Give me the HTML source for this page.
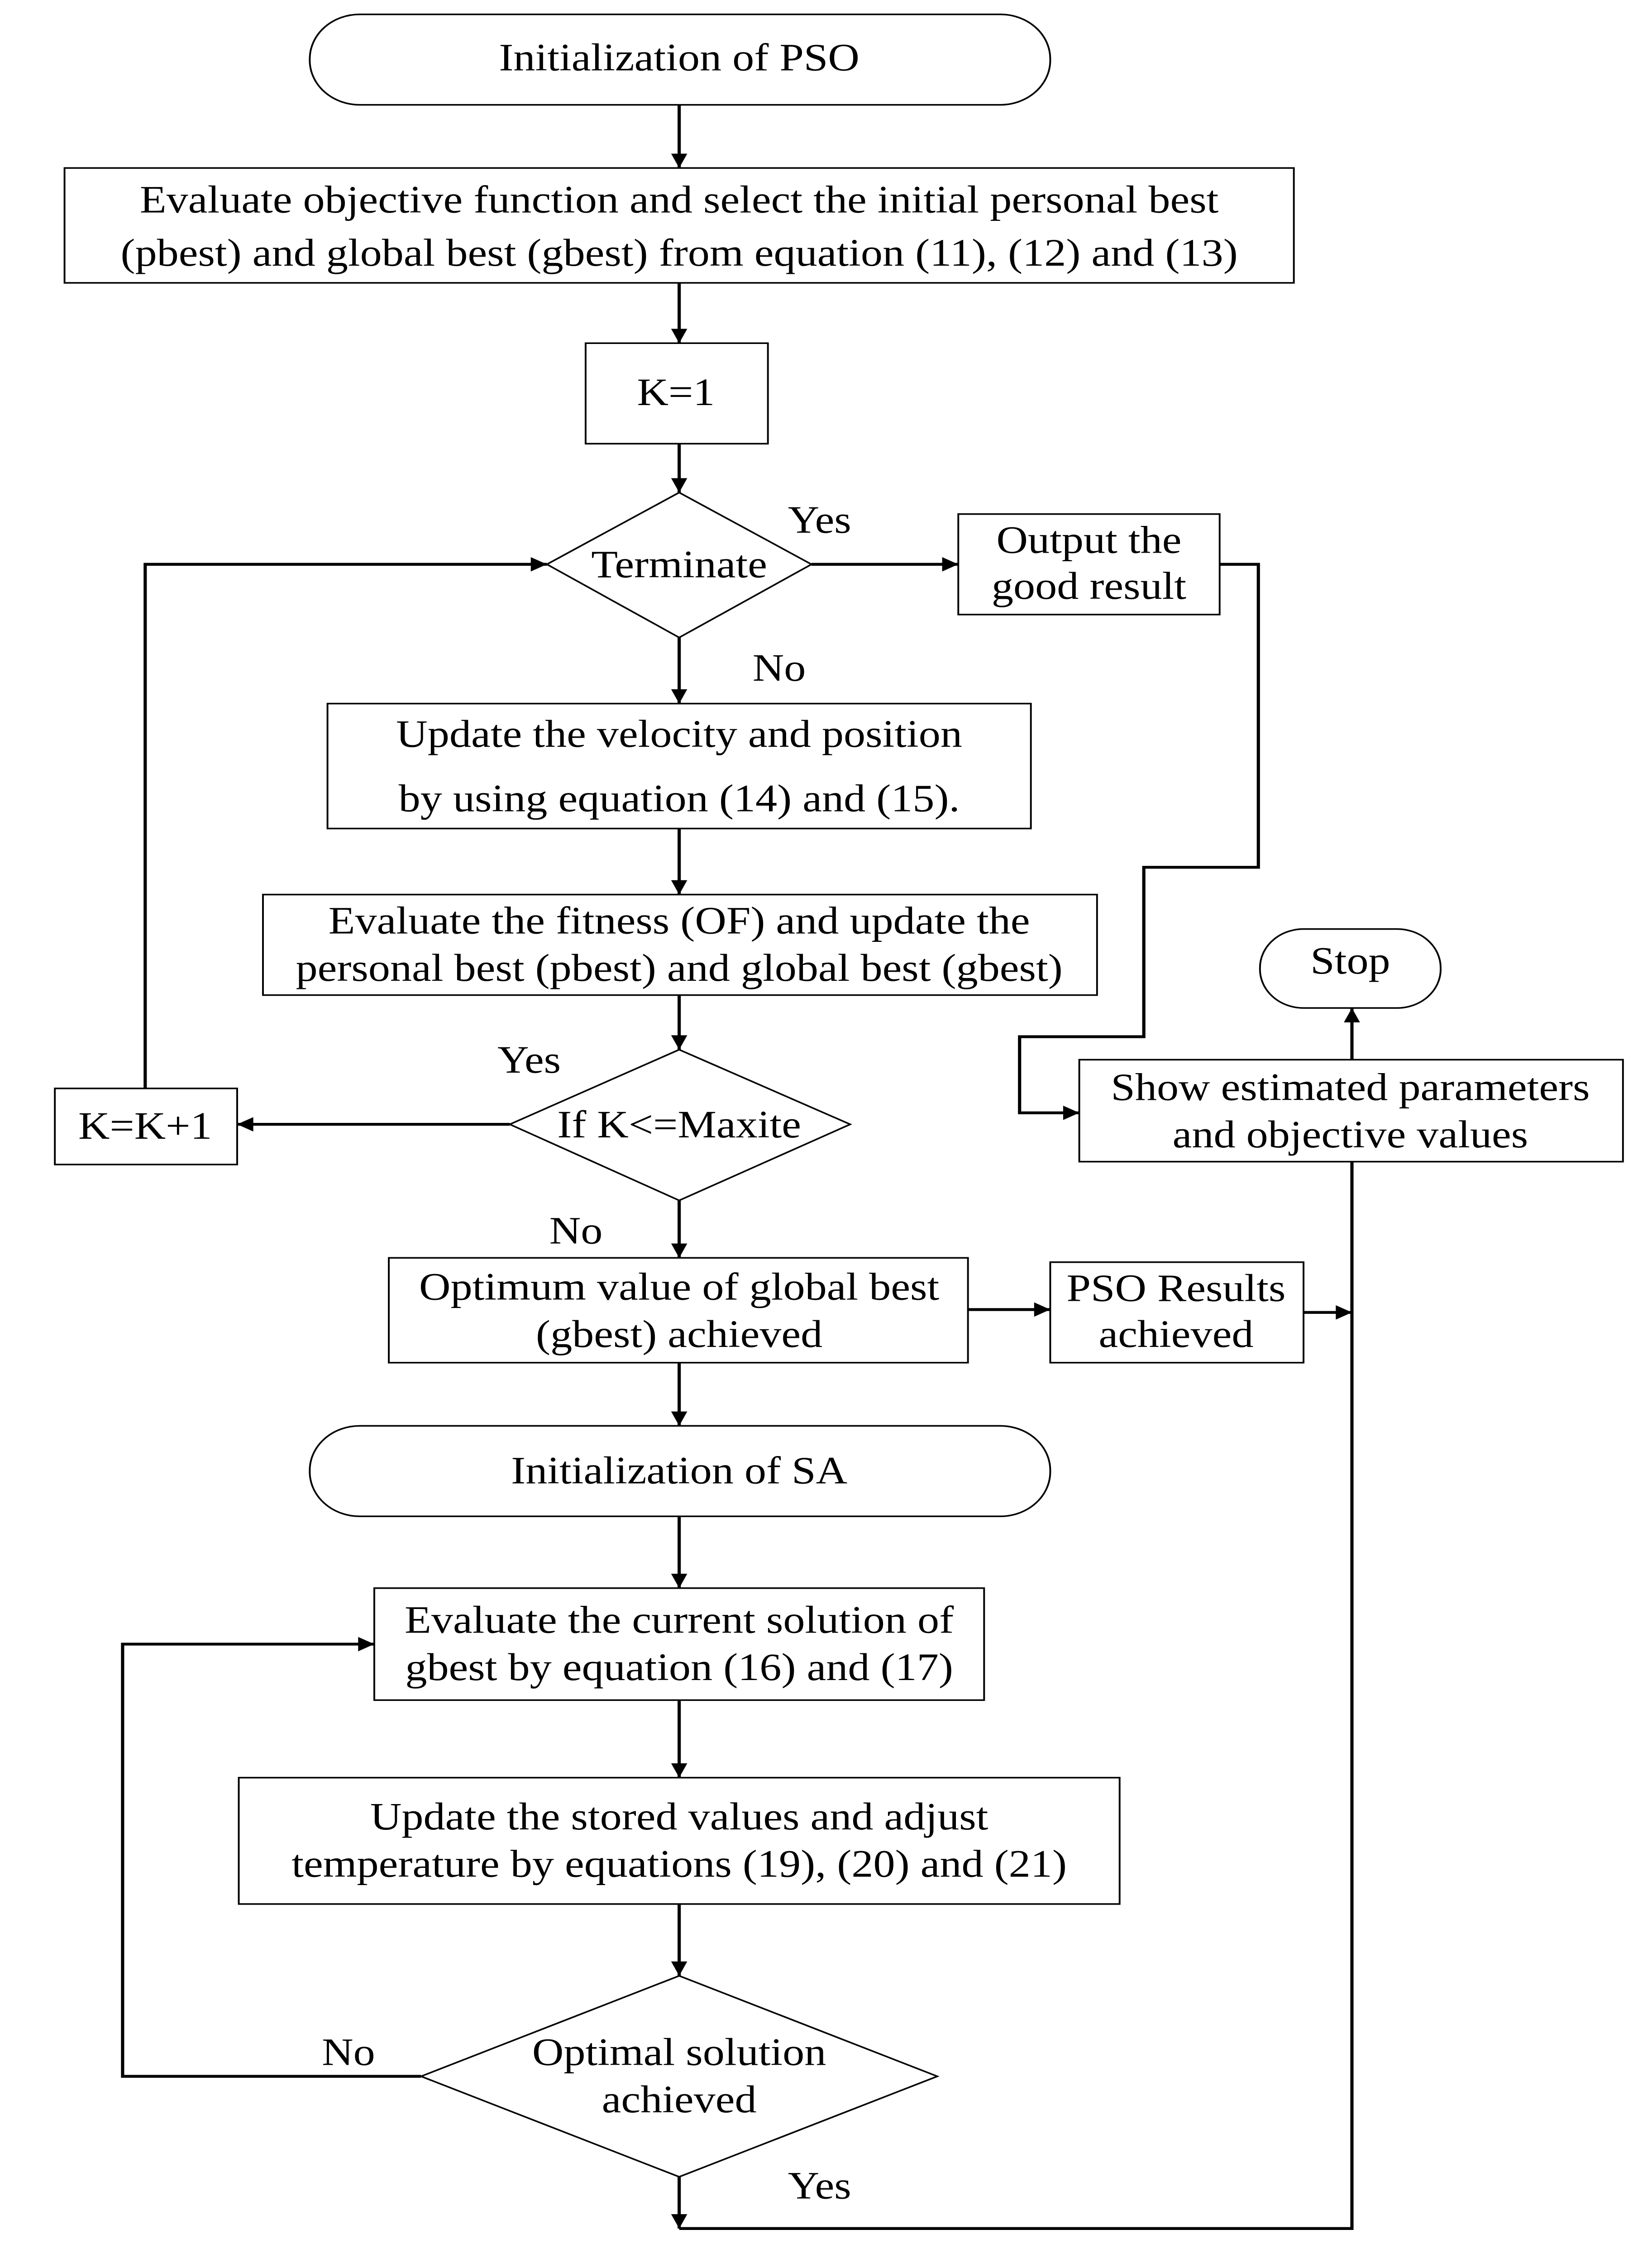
<!DOCTYPE html>
<html><head><style>
html,body{margin:0;padding:0;background:#fff;width:100%;height:100%;overflow:hidden}
svg{display:block;position:fixed;left:0;top:0;width:100vw;height:100vh}
</style></head>
<body>
<svg xmlns="http://www.w3.org/2000/svg" viewBox="0 0 1024 1576" preserveAspectRatio="none">
<defs>
<marker id="b" viewBox="0 0 10 10" refX="10" refY="5" markerWidth="14" markerHeight="10" markerUnits="userSpaceOnUse" orient="auto"><path d="M0,0L10,5L0,10z" fill="#000"/></marker>
</defs>
<g fill="#fff" stroke="#000" stroke-width="1.1">
<rect x="192" y="10" width="459" height="63" rx="31"/>
<rect x="40" y="117" width="762" height="80"/>
<rect x="363" y="239" width="113" height="70"/>
<polygon points="421,343 503,393 421,444 339,393"/>
<rect x="594" y="358" width="162" height="70"/>
<rect x="203" y="490" width="436" height="87"/>
<rect x="163" y="623" width="517" height="70"/>
<polygon points="421,731 527,783 421,836 316,783"/>
<rect x="34" y="758" width="113" height="53"/>
<rect x="241" y="876" width="359" height="73"/>
<rect x="651" y="879" width="157" height="70"/>
<rect x="669" y="738" width="337" height="71"/>
<rect x="781" y="647" width="112" height="55" rx="27"/>
<rect x="192" y="993" width="459" height="63" rx="31"/>
<rect x="232" y="1106" width="378" height="78"/>
<rect x="148" y="1238" width="546" height="88"/>
<polygon points="421,1376 581,1446 421,1516 261,1446"/>
</g>
<g fill="none" stroke="#000" stroke-width="2" marker-end="url(#b)">
<path d="M421,73V117"/>
<path d="M421,197V239"/>
<path d="M421,309V343"/>
<path d="M503,393H594"/>
<path d="M756,393H780V604H709V722H632V775H669"/>
<path d="M421,444V490"/>
<path d="M421,577V623"/>
<path d="M421,693V731"/>
<path d="M316,783H147"/>
<path d="M90,758V393H339"/>
<path d="M421,836V876"/>
<path d="M600,912H651"/>
<path d="M808,914H838"/>
<path d="M838,738V702"/>
<path d="M421,949V993"/>
<path d="M421,1056V1106"/>
<path d="M421,1184V1238"/>
<path d="M421,1326V1376"/>
<path d="M261,1446H76V1145H232"/>
<path d="M421,1516V1552"/>
</g>
<path d="M421,1552H838V809" fill="none" stroke="#000" stroke-width="2"/>
<g font-family="Liberation Serif, serif" font-size="27" text-anchor="middle" dominant-baseline="central" fill="#000">
<text x="421" y="40">Initialization of PSO</text>
<text x="421" y="139">Evaluate objective function and select the initial personal best</text>
<text x="421" y="176">(pbest) and global best (gbest) from equation (11), (12) and (13)</text>
<text x="419" y="273">K=1</text>
<text x="421" y="393">Terminate</text>
<text x="508" y="362">Yes</text>
<text x="675" y="376">Output the</text>
<text x="675" y="408">good result</text>
<text x="483" y="465">No</text>
<text x="421" y="511">Update the velocity and position</text>
<text x="421" y="556">by using equation (14) and (15).</text>
<text x="421" y="641">Evaluate the fitness (OF) and update the</text>
<text x="421" y="674">personal best (pbest) and global best (gbest)</text>
<text x="328" y="738">Yes</text>
<text x="421" y="783">If K&lt;=Maxite</text>
<text x="90" y="784">K=K+1</text>
<text x="357" y="857">No</text>
<text x="421" y="896">Optimum value of global best</text>
<text x="421" y="929">(gbest) achieved</text>
<text x="729" y="897">PSO Results</text>
<text x="729" y="929">achieved</text>
<text x="837" y="757">Show estimated parameters</text>
<text x="837" y="790">and objective values</text>
<text x="837" y="669">Stop</text>
<text x="421" y="1024">Initialization of SA</text>
<text x="421" y="1128">Evaluate the current solution of</text>
<text x="421" y="1161">gbest by equation (16) and (17)</text>
<text x="421" y="1265">Update the stored values and adjust</text>
<text x="421" y="1298">temperature by equations (19), (20) and (21)</text>
<text x="421" y="1429">Optimal solution</text>
<text x="421" y="1462">achieved</text>
<text x="216" y="1429">No</text>
<text x="508" y="1522">Yes</text>
</g>
</svg>
</body></html>
